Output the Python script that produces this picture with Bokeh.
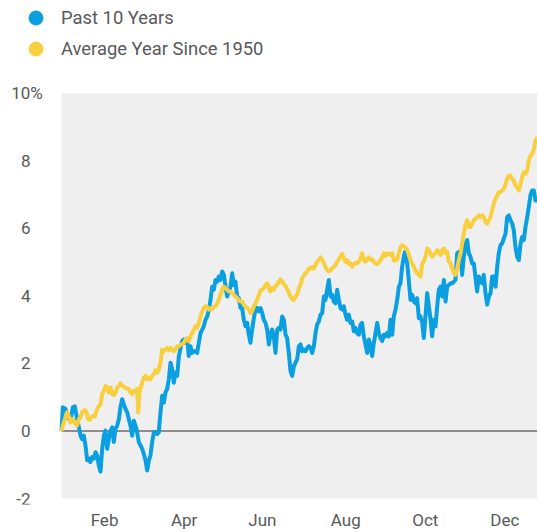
from bokeh.plotting import figure
from bokeh.models import Range1d, FixedTicker, BoxAnnotation, Legend, LegendItem, ColumnDataSource
from bokeh.core.properties import value
from bokeh.embed import file_html
from bokeh.resources import INLINE

# ---- data (day of year, % return) ----
past10_days = [0,1.0,3.1,4.9,6.9,8.7,10.2,11.5,13.3,14.6,15.8,17.1,18.4,19.7,21.0,22.2,23.5,24.8,26.1,27.4,28.6,29.9,31.2,32.5,33.7,35.0,36.3,37.6,38.9,40.1,41.4,42.7,44.0,45.2,46.5,47.8,49.1,50.4,51.6,52.9,54.2,55.5,56.7,58.0,59.3,60.6,61.9,63.1,64.4,65.7,67.0,68.2,69.5,70.8,72.1,73.4,74.6,75.9,77.2,78.5,79.7,81.0,82.3,83.6,84.9,86.1,87.4,88.7,90.0,
    92.5,93.8,95.1,96.4,97.6,98.9,100.2,101.5,102.8,104.0,105.3,106.6,107.9,109.1,110.4,111.7,113.0,114.3,115.5,116.8,118.1,119.4,120.6,121.9,123.2,124.5,125.8,127.0,128.3,129.6,130.9,132.1,133.4,134.7,136.0,137.3,138.5,139.8,141.1,142.4,143.6,144.9,146.2,147.5,148.8,150.0,151.3,152.6,153.9,155.1,156.4,157.7,159.0,160.3,161.5,162.8,164.1,165.4,166.6,167.9,169.2,170.5,171.8,173.0,174.3,175.6,176.9,178.2,179.4,180.7,182.0,183.3,
    184.5,185.8,187.1,188.4,189.7,190.9,192.2,193.5,194.8,196.0,197.3,198.6,199.9,201.2,202.4,203.7,205.0,206.3,207.5,208.8,210.1,211.4,212.7,213.9,215.2,216.5,217.8,219.0,220.3,221.6,222.9,224.2,225.4,226.7,228.0,229.3,230.5,231.8,233.1,234.4,235.7,236.9,238.2,239.5,240.8,242.1,243.3,244.6,245.9,247.2,248.4,249.7,251.0,252.3,253.6,254.8,256.1,257.4,258.7,259.9,261.2,262.5,263.3,265.1,266.3,267.6,268.9,270.2,271.4,272.7,274.0,275.3,
    276.6,277.8,279.1,280.4,281.7,283.0,284.2,285.5,286.8,288.1,289.3,290.6,291.9,293.2,294.5,295.7,297.0,298.3,299.6,300.8,302.1,303.4,304.7,306.0,307.2,308.5,309.8,311.1,312.3,313.6,314.9,316.2,317.5,318.7,320.0,321.3,322.6,323.8,325.1,326.4,327.7,329.0,330.2,331.5,332.8,334.1,335.3,336.6,337.9,339.2,340.5,341.7,343.0,344.3,345.6,346.8,348.1,349.4,350.7,352.0,353.2,354.5,355.8,357.1,358.3,359.6,360.9,362.2,363.5,364.7]
past10_vals = [0.0,0.70,0.65,0.40,0.30,0.70,0.73,0.45,0.11,-0.14,-0.24,-0.14,-0.43,-0.87,-0.82,-0.92,-0.77,-0.82,-0.63,-0.73,-1.02,-1.20,-0.53,-0.14,0.01,-0.53,-0.24,0.0,0.11,-0.33,0.06,0.16,0.35,0.70,0.94,0.79,0.65,0.55,0.35,0.16,-0.14,0.30,0.16,-0.04,-0.33,-0.43,-0.53,-0.68,-0.87,-1.17,-0.87,-0.73,-0.33,-0.04,-0.04,-0.09,-0.04,0.55,1.04,0.84,1.14,1.24,1.53,2.02,1.82,1.43,1.73,1.63,2.22,
    2.66,2.71,2.61,2.71,2.22,2.51,2.31,2.36,2.36,2.31,2.61,2.90,3.00,3.10,3.29,3.39,3.59,3.88,4.27,4.18,4.47,4.42,4.57,4.47,4.72,4.62,4.27,3.98,4.13,4.27,4.67,4.32,4.42,3.98,3.93,3.64,3.64,3.29,3.10,3.20,2.85,2.61,3.00,3.34,3.59,3.64,3.54,3.64,3.49,3.29,3.20,3.00,2.56,2.85,3.00,2.80,2.31,3.00,3.05,3.00,3.39,3.29,2.85,2.75,2.31,1.77,1.63,1.92,2.02,2.12,2.51,2.56,
    2.36,2.41,2.36,2.46,2.51,2.46,2.31,2.51,2.90,3.15,3.24,3.44,3.49,3.98,3.88,4.18,4.47,3.98,4.03,3.83,3.78,4.18,3.88,3.64,3.59,3.69,3.44,3.29,3.44,3.20,3.24,2.95,3.05,2.90,2.85,3.15,3.20,2.80,2.56,2.31,2.71,2.51,2.22,2.61,2.90,3.20,2.90,2.75,2.66,2.85,2.80,2.90,2.80,3.29,2.85,3.39,3.59,3.88,4.27,4.37,4.86,5.16,5.30,4.96,4.47,3.88,4.03,3.83,3.78,3.93,3.34,3.39,
    3.20,2.75,3.39,4.08,3.69,3.29,2.80,3.29,3.10,3.69,4.18,4.27,3.98,4.47,3.83,4.27,4.32,4.37,4.37,4.42,4.47,5.26,5.30,5.16,4.62,5.16,5.55,5.65,5.26,5.16,4.96,4.96,4.52,4.13,4.57,4.47,4.37,4.62,4.08,3.74,3.98,4.08,4.57,4.57,4.27,4.86,5.26,5.50,5.55,5.70,5.84,6.33,6.38,6.24,6.14,5.94,5.45,5.16,5.06,5.55,5.74,5.65,6.04,6.33,6.63,6.97,7.12,7.12,6.82,6.82]

avg_days = [0,1.0,2.6,4.3,5.6,6.9,8.2,9.5,10.7,12.0,13.3,14.6,15.8,17.9,19.2,20.4,21.7,23.0,24.3,25.6,26.8,28.1,29.9,31.2,32.5,33.7,35.0,36.3,37.6,38.9,40.1,41.4,42.7,44.0,45.2,46.5,47.8,49.1,50.4,51.6,52.9,54.2,55.5,56.7,58.0,58.8,59.8,60.6,61.9,63.1,64.4,65.7,67.0,68.2,69.5,70.8,72.1,73.4,74.6,75.9,77.2,78.5,79.7,81.0,82.3,83.6,84.9,86.1,87.4,88.7,90.0,91.2,
    92.5,93.8,95.1,96.4,97.6,98.9,100.2,101.5,102.8,104.0,105.3,106.6,107.9,109.1,110.4,111.7,113.0,114.3,115.5,116.8,118.1,119.4,120.6,121.9,123.2,124.5,125.8,127.0,128.3,129.6,130.9,132.1,133.4,134.7,136.0,137.3,138.5,139.8,141.1,142.4,143.6,144.9,146.2,147.5,148.8,150.0,151.3,152.6,153.9,155.1,156.4,157.7,159.0,160.3,161.5,162.8,164.1,165.4,166.6,167.9,169.2,170.5,171.8,173.0,174.3,175.6,176.9,178.2,179.4,180.7,182.0,183.3,
    184.5,185.8,187.1,188.4,189.7,190.9,192.2,193.5,194.8,196.0,197.3,198.6,199.9,201.2,202.4,203.7,205.0,206.3,207.5,208.8,210.1,211.4,212.7,213.9,215.2,216.5,217.8,219.0,220.3,221.6,222.9,224.2,225.4,226.7,228.0,229.3,230.5,231.8,233.1,234.4,235.7,236.9,238.2,239.5,240.8,242.1,243.3,244.6,245.9,247.2,248.4,249.7,251.0,252.3,253.6,254.8,256.1,257.4,258.7,259.9,261.2,262.5,263.8,265.1,266.3,267.6,268.9,270.2,271.4,272.7,274.0,275.3,
    276.6,277.8,279.1,280.4,281.7,283.0,284.2,285.5,286.8,288.1,289.3,290.6,291.9,293.2,294.5,295.7,297.0,298.3,299.6,300.8,302.1,303.4,304.7,306.0,307.2,308.5,309.8,311.1,312.3,313.6,314.9,316.2,317.5,318.7,320.0,321.3,322.6,323.8,325.1,326.4,327.7,329.0,330.2,331.5,332.8,334.1,335.3,336.6,337.9,339.2,340.5,341.7,343.0,344.3,345.6,346.8,348.1,349.4,350.7,352.0,353.2,354.5,355.8,357.1,358.3,359.6,360.9,362.2,363.5,364.7]
avg_vals = [0.0,0.16,0.35,0.55,0.45,0.25,0.35,0.30,0.21,0.16,0.35,0.40,0.55,0.62,0.55,0.35,0.33,0.40,0.45,0.43,0.60,0.70,0.79,1.09,1.19,1.33,1.28,1.14,1.28,1.09,1.06,1.14,1.28,1.33,1.41,1.35,1.31,1.28,1.24,1.24,1.14,1.09,1.19,1.16,1.24,0.55,1.14,1.28,1.43,1.58,1.63,1.53,1.58,1.53,1.63,1.68,1.80,1.73,1.82,2.02,2.41,2.36,2.41,2.46,2.39,2.46,2.41,2.36,2.41,2.51,2.51,2.56,
    2.56,2.61,2.71,2.75,2.66,2.80,2.90,3.00,3.10,3.05,3.20,3.39,3.54,3.64,3.69,3.67,3.59,3.64,3.61,3.67,3.69,3.78,3.88,4.03,4.18,4.27,4.23,4.18,4.13,4.13,4.08,4.03,3.98,3.93,3.88,3.83,3.83,3.74,3.69,3.64,3.59,3.49,3.54,3.69,3.78,3.88,4.03,4.16,4.18,4.23,4.32,4.37,4.23,4.13,4.23,4.18,4.29,4.32,4.42,4.49,4.42,4.35,4.29,4.20,4.10,3.98,3.90,3.88,3.98,4.03,4.23,4.32,
    4.52,4.59,4.67,4.72,4.81,4.81,4.86,4.81,4.91,5.01,5.06,5.14,5.06,4.96,4.86,4.76,4.72,4.76,4.81,4.86,4.91,5.01,5.08,5.16,5.24,5.11,5.01,5.06,4.94,4.96,4.86,4.94,4.98,4.96,5.01,5.11,5.26,5.06,5.01,5.08,5.14,5.06,5.08,5.01,4.96,4.94,4.98,5.06,5.14,5.26,5.18,5.26,5.24,5.21,5.26,5.06,5.04,5.08,5.26,5.43,5.50,5.47,5.43,5.35,5.21,5.06,4.96,4.86,4.76,4.67,4.62,4.57,
    4.96,5.01,5.16,5.40,5.35,5.26,5.16,5.21,5.26,5.35,5.30,5.21,5.35,5.40,5.26,5.30,5.01,4.96,4.81,4.67,4.62,4.81,5.06,5.26,5.55,5.84,6.14,6.24,6.04,6.04,6.14,6.24,6.28,6.33,6.38,6.33,6.38,6.33,6.19,6.14,6.24,6.33,6.53,6.73,6.87,6.97,7.07,7.07,7.12,7.17,7.31,7.46,7.56,7.56,7.46,7.41,7.26,7.21,7.12,7.31,7.51,7.66,7.61,7.71,8.00,8.15,8.20,8.34,8.59,8.69]

month_ticks = [33, 94, 154, 218, 279, 340]
month_labels = ["Feb", "Apr", "Jun", "Aug", "Oct", "Dec"]
y_ticks = [-2, 0, 2, 4, 6, 8, 10]
y_tick_labels = ["-2", "0", "2", "4", "6", "8", "10%"]
YEAR_START, YEAR_END = 0, 365
Y_MIN, Y_MAX = -2, 10

series_names = ["Past 10 Years", "Average Year Since 1950"]
BLUE = "#0a9fe0"
GOLD = "#f8cf3f"
TXT = "#58595b"
FONT = "Roboto"

# ---- layout constants (pixels) ----
W, H = 537, 532
PLOT_LEFT, PLOT_TOP, PLOT_BOTTOM = 61, 93, 500   # grey area edges
BOTTOM_AXIS = 26                                  # room for month labels
frame_h = H - BOTTOM_AXIS
px_per_day = (W - PLOT_LEFT) / (YEAR_END - YEAR_START)
px_per_pct = (PLOT_BOTTOM - PLOT_TOP) / (Y_MAX - Y_MIN)

p = figure(width=W, height=H,
           x_range=Range1d(YEAR_START - PLOT_LEFT / px_per_day, YEAR_END),
           y_range=Range1d(Y_MIN - (frame_h - PLOT_BOTTOM) / px_per_pct, Y_MAX + PLOT_TOP / px_per_pct),
           output_backend="svg", toolbar_location=None, y_axis_location=None,
           min_border_left=0, min_border_right=0, min_border_top=0, min_border_bottom=BOTTOM_AXIS,
           background_fill_color="white", border_fill_color="white", outline_line_color=None)
p.xgrid.visible = False
p.ygrid.visible = False

# grey plotting area
p.add_layout(BoxAnnotation(left=YEAR_START, right=YEAR_END, bottom=Y_MIN, top=Y_MAX,
                           fill_color="#efefef", fill_alpha=1, line_color=None, level="underlay"))

# zero line
p.segment(x0=[YEAR_START], y0=[0], x1=[YEAR_END], y1=[0], line_color="#6e6e6e", line_width=1.5)

p.line(past10_days, past10_vals, line_color=BLUE, line_width=4, line_join="round")
p.line(avg_days, avg_vals, line_color=GOLD, line_width=4, line_join="round")

# y tick labels (right-aligned; the % sign hangs past the column)
ysrc = ColumnDataSource(dict(y=y_ticks, text=y_tick_labels,
                             xo=[12.3 if t.endswith("%") else 0 for t in y_tick_labels]))
p.text(x=YEAR_START - (PLOT_LEFT - 30) / px_per_day, y="y", text="text", source=ysrc,
       x_offset="xo", text_align="right", text_baseline="middle",
       text_font=value(FONT), text_font_size="17px", text_color=TXT)

# legend glyph holders (hidden renderers)
m_blue = p.scatter(x=past10_days[:1], y=past10_vals[:1], marker="circle", size=14,
                   fill_color=BLUE, line_color=BLUE, visible=False)
m_gold = p.scatter(x=avg_days[:1], y=avg_vals[:1], marker="circle", size=14,
                   fill_color=GOLD, line_color=GOLD, visible=False)
for i, (name, rend) in enumerate(zip(series_names, [m_blue, m_gold])):
    cy = 19.5 + 31 * i
    leg = Legend(items=[LegendItem(label=name, renderers=[rend])],
                 location=(35.5 - 17.5, frame_h - (cy + 17.5)),
                 glyph_width=35, glyph_height=35, label_standoff=8,
                 padding=0, margin=0, spacing=0, click_policy="none",
                 border_line_color=None, background_fill_alpha=0,
                 label_text_font=FONT, label_text_font_size="18.4px", label_text_color=TXT)
    p.add_layout(leg)

ax = p.xaxis[0]
ax.axis_line_color = None
ax.major_tick_line_color = None
ax.minor_tick_line_color = None
ax.major_tick_out = 0
ax.major_tick_in = 0
ax.major_label_text_font = FONT
ax.major_label_text_font_size = "17px"
ax.major_label_text_color = TXT
ax.ticker = FixedTicker(ticks=month_ticks)
ax.major_label_overrides = {t: l for t, l in zip(month_ticks, month_labels)}
ax.major_label_standoff = 5

open("out.html", "w").write(file_html(p, INLINE))
